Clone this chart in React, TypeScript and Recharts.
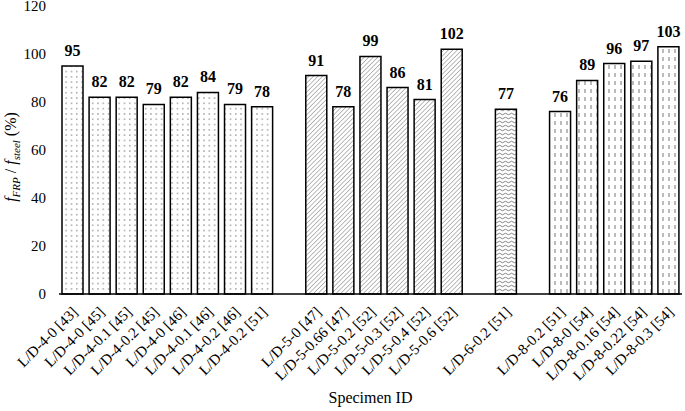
import React from 'react';
import { BarChart, Bar, XAxis, YAxis, Cell, LabelList } from 'recharts';

const categories = [
  'L/D-4-0 [43]', 'L/D-4-0 [45]', 'L/D-4-0.1 [45]', 'L/D-4-0.2 [45]', 'L/D-4-0 [46]', 'L/D-4-0.1 [46]', 'L/D-4-0.2 [46]', 'L/D-4-0.2 [51]',
  '',
  'L/D-5-0 [47]', 'L/D-5-0.66 [47]', 'L/D-5-0.2 [52]', 'L/D-5-0.3 [52]', 'L/D-5-0.4 [52]', 'L/D-5-0.6 [52]',
  '',
  'L/D-6-0.2 [51]',
  '',
  'L/D-8-0.2 [51]', 'L/D-8-0 [54]', 'L/D-8-0.16 [54]', 'L/D-8-0.22 [54]', 'L/D-8-0.3 [54]',
];
const values: (number | null)[] = [
  95, 82, 82, 79, 82, 84, 79, 78,
  null,
  91, 78, 99, 86, 81, 102,
  null,
  77,
  null,
  76, 89, 96, 97, 103,
];
const groups = [
  'dots', 'dots', 'dots', 'dots', 'dots', 'dots', 'dots', 'dots',
  'none',
  'hatch', 'hatch', 'hatch', 'hatch', 'hatch', 'hatch',
  'none',
  'wave',
  'none',
  'dash', 'dash', 'dash', 'dash', 'dash',
];
const yTicks = [0, 20, 40, 60, 80, 100, 120];

const data = categories.map((name, i) => ({ name, value: values[i], group: groups[i] }));

const FONT = '"Liberation Serif", "Times New Roman", serif';

const XTick = (props: any) => {
  const { x, payload } = props;
  if (!payload.value) return null;
  const ax = x + 6;
  const ay = 313;
  return (
    <text x={ax} y={ay} transform={`rotate(-45, ${ax}, ${ay})`} textAnchor="end" fontFamily={FONT} fontSize={15} fill="#000">
      {payload.value}
    </text>
  );
};

const ValueLabel = (props: any) => {
  const { x, y, width, value } = props;
  if (value === null || value === undefined) return null;
  return (
    <text x={x + width / 2} y={y - 10} textAnchor="middle" fontFamily={FONT} fontSize={16} fontWeight="bold" fill="#000">
      {value}
    </text>
  );
};

const YLabel = () => (
  <text transform="translate(16, 157) rotate(-90)" textAnchor="middle" fontFamily={FONT} fontSize={16} fill="#000">
    <tspan fontStyle="italic">f</tspan>
    <tspan fontStyle="italic" fontSize={11} dy={4}>FRP</tspan>
    <tspan dy={-4}> / </tspan>
    <tspan fontStyle="italic">f</tspan>
    <tspan fontStyle="italic" fontSize={11} dy={4}>steel</tspan>
    <tspan dy={-4}> (%)</tspan>
  </text>
);

export default function App() {
  return (
    <div style={{ position: 'absolute', left: 0, top: 0 }}>
      <BarChart width={685} height={411} data={data} margin={{ top: 6, right: 3, bottom: 0, left: 0 }} barSize={21}>
        <defs>
          <pattern id="p-dots" width="5.3" height="5.3" patternUnits="userSpaceOnUse">
            <rect width="5.3" height="5.3" fill="#fff" />
            <circle cx="2.6" cy="2.6" r="0.65" fill="#555" />
          </pattern>
          <pattern id="p-hatch" width="3.2" height="3.2" patternUnits="userSpaceOnUse" patternTransform="rotate(45)">
            <rect width="3.2" height="3.2" fill="#fff" />
            <line x1="0" y1="0" x2="0" y2="3.2" stroke="#777" strokeWidth="1" />
          </pattern>
          <pattern id="p-wave" width="6" height="4" patternUnits="userSpaceOnUse">
            <rect width="6" height="4" fill="#fff" />
            <path d="M0 2 Q1.5 0.5 3 2 T6 2" stroke="#666" strokeWidth="0.8" fill="none" />
          </pattern>
          <pattern id="p-dash" width="6" height="8" patternUnits="userSpaceOnUse">
            <rect width="6" height="8" fill="#fff" />
            <line x1="3" y1="1" x2="3" y2="5" stroke="#666" strokeWidth="0.9" />
          </pattern>
        </defs>
        <XAxis
          dataKey="name"
          interval={0}
          tick={<XTick />}
          tickLine={false}
          axisLine={{ stroke: '#000', strokeWidth: 1.5 }}
          height={117}
          label={{ value: 'Specimen ID', position: 'insideBottom', offset: 8, fontFamily: FONT, fontSize: 16, fill: '#000' }}
        />
        <YAxis
          domain={[0, 120]}
          ticks={yTicks}
          interval={0}
          width={59}
          axisLine={false}
          tickLine={false}
          tickSize={6}
          tickMargin={7}
          tick={{ fontFamily: FONT, fontSize: 15, fill: '#000' }}
          label={<YLabel />}
        />
        <Bar dataKey="value" stroke="#000" strokeWidth={1.5} isAnimationActive={false}>
          {data.map((d, i) => (
            <Cell key={i} fill={d.group === 'none' ? 'none' : `url(#p-${d.group})`} />
          ))}
          <LabelList dataKey="value" content={<ValueLabel />} />
        </Bar>
      </BarChart>
    </div>
  );
}
